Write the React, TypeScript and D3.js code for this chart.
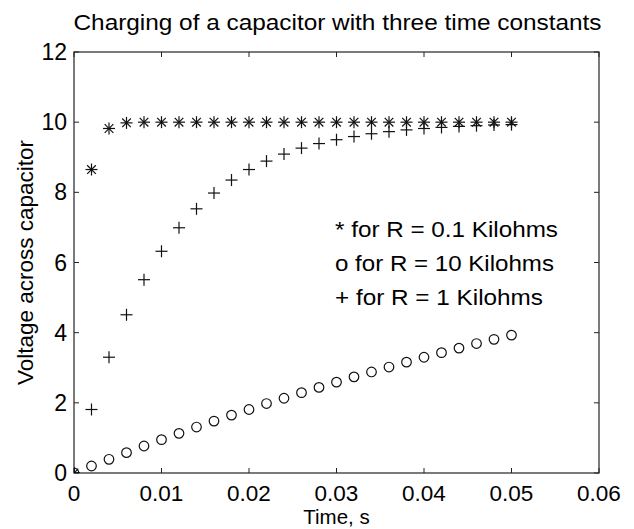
import React from "react";
import * as d3 from "d3";

const timeS = [0, 0.002, 0.004, 0.006, 0.008, 0.01, 0.012, 0.014, 0.016, 0.018, 0.02, 0.022, 0.024, 0.026, 0.028, 0.03, 0.032, 0.034, 0.036, 0.038, 0.04, 0.042, 0.044, 0.046, 0.048, 0.05];
const vR01 = [0, 8.65, 9.82, 9.98, 10, 10, 10, 10, 10, 10, 10, 10, 10, 10, 10, 10, 10, 10, 10, 10, 10, 10, 10, 10, 10, 10];
const vR1 = [0, 1.81, 3.3, 4.51, 5.51, 6.32, 6.99, 7.53, 7.98, 8.35, 8.65, 8.89, 9.09, 9.26, 9.39, 9.5, 9.59, 9.67, 9.73, 9.78, 9.82, 9.85, 9.88, 9.9, 9.92, 9.93];
const vR10 = [0, 0.2, 0.39, 0.58, 0.77, 0.95, 1.13, 1.31, 1.48, 1.65, 1.81, 1.98, 2.13, 2.29, 2.44, 2.59, 2.74, 2.88, 3.02, 3.16, 3.3, 3.43, 3.56, 3.69, 3.81, 3.93];
const xTicks = [0, 0.01, 0.02, 0.03, 0.04, 0.05, 0.06];
const xTickLabels = ["0", "0.01", "0.02", "0.03", "0.04", "0.05", "0.06"];
const yTicks = [0, 2, 4, 6, 8, 10, 12];
const legendLines = ["* for R = 0.1 Kilohms", "o for R = 10 Kilohms", "+ for R = 1 Kilohms"];
const legendWidths = [223, 219, 208];
const titleText = "Charging of a capacitor with three time constants";
const xLabel = "Time, s";
const yLabel = "Voltage across capacitor";

const W = 634;
const H = 529;
const L = 74, R = 599, T = 52, B = 473;
const FONT = "'Liberation Sans', Arial, Helvetica, sans-serif";

export default function App() {
  const x = d3.scaleLinear().domain([0, 0.06]).range([L, R]);
  const y = d3.scaleLinear().domain([0, 12]).range([B, T]);
  const tl = 5;
  const ink = "#111";

  const star = (cx: number, cy: number, k: string) => {
    const s = 6;
    const d = s * 0.72;
    return (
      <g key={k} stroke={ink} strokeWidth={1.2}>
        <line x1={cx - s} y1={cy} x2={cx + s} y2={cy} />
        <line x1={cx} y1={cy - s} x2={cx} y2={cy + s} />
        <line x1={cx - d} y1={cy - d} x2={cx + d} y2={cy + d} />
        <line x1={cx - d} y1={cy + d} x2={cx + d} y2={cy - d} />
      </g>
    );
  };
  const plus = (cx: number, cy: number, k: string) => {
    const s = 6;
    return (
      <g key={k} stroke={ink} strokeWidth={1.2}>
        <line x1={cx - s} y1={cy} x2={cx + s} y2={cy} />
        <line x1={cx} y1={cy - s} x2={cx} y2={cy + s} />
      </g>
    );
  };

  return (
    <svg width={W} height={H} style={{ position: "absolute", left: 0, top: 0, background: "#fff" }} fontFamily={FONT}>
      <defs>
        <clipPath id="plotclip">
          <rect x={L} y={T} width={R - L} height={B - T} />
        </clipPath>
      </defs>
      <rect x={0} y={0} width={W} height={H} fill="#fff" />
      <text x={(L + R) / 2 + 1} y={30} fontSize={22} textAnchor="middle" textLength={528} lengthAdjust="spacingAndGlyphs" fill="#000">{titleText}</text>

      {/* frame */}
      <rect x={L} y={T} width={R - L} height={B - T} fill="none" stroke="#222" strokeWidth={1.2} />
      {xTicks.map((t, i) => (
        <g key={"xt" + i}>
          <line x1={x(t)} x2={x(t)} y1={B} y2={B - tl} stroke="#222" />
          <line x1={x(t)} x2={x(t)} y1={T} y2={T + tl} stroke="#222" />
          <text x={x(t)} y={B + 28} fontSize={22.5} textAnchor="middle" fill="#000">{xTickLabels[i]}</text>
        </g>
      ))}
      {yTicks.map((v, i) => (
        <g key={"yt" + i}>
          <line x1={L} x2={L + tl} y1={y(v)} y2={y(v)} stroke="#222" />
          <line x1={R} x2={R - tl} y1={y(v)} y2={y(v)} stroke="#222" />
          <text x={L - 7} y={y(v) + 8} fontSize={23} textAnchor="end" fill="#000">{String(v)}</text>
        </g>
      ))}

      <text x={(L + R) / 2} y={524} fontSize={20.5} textAnchor="middle" fill="#000">{xLabel}</text>
      <text transform={`translate(33,${(T + B) / 2}) rotate(-90)`} fontSize={22.5} textAnchor="middle" fill="#000">{yLabel}</text>

      <g clipPath="url(#plotclip)">
        {timeS.map((t, i) => (
          <circle key={"c" + i} cx={x(t)} cy={y(vR10[i])} r={4.8} fill="none" stroke={ink} strokeWidth={1.2} />
        ))}
        {timeS.map((t, i) => plus(x(t), y(vR1[i]), "p" + i))}
        {timeS.map((t, i) => star(x(t), y(vR01[i]), "s" + i))}
      </g>

      {legendLines.map((s, i) => (
        <text key={"lg" + i} x={335} y={237 + i * 34} fontSize={22} textLength={legendWidths[i]} lengthAdjust="spacingAndGlyphs" fill="#000">{s}</text>
      ))}
    </svg>
  );
}
